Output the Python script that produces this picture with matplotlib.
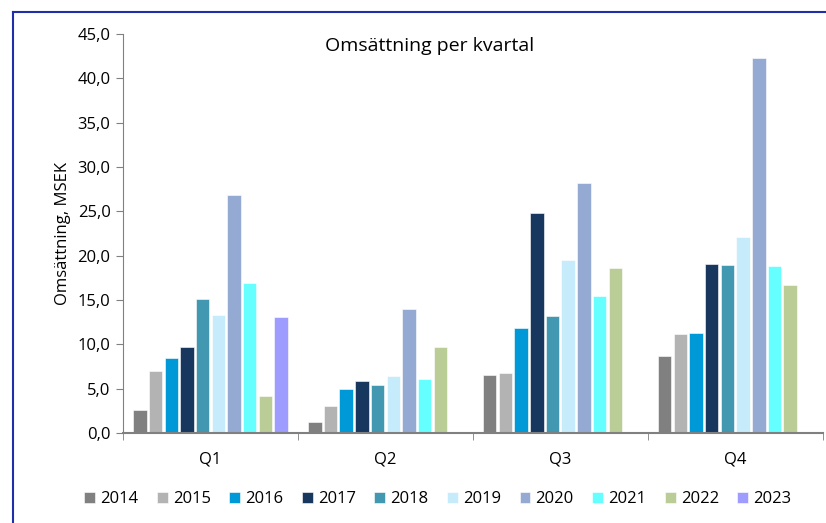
import numpy as np
import matplotlib.pyplot as plt
from matplotlib.lines import Line2D
from matplotlib.ticker import FuncFormatter

plt.rcParams['font.family'] = ['Open Sans', 'DejaVu Sans']

quarters = ["Q1", "Q2", "Q3", "Q4"]
years = ["2014", "2015", "2016", "2017", "2018", "2019", "2020", "2021", "2022", "2023"]
colors = ["#808080", "#b3b3b3", "#0099d8", "#17375e", "#4198b0",
          "#c6ecfb", "#95aad3", "#66ffff", "#bacd96", "#9e9cff"]

nan = np.nan
values = {
    "2014": [2.6, 1.3, 6.6, 8.7],
    "2015": [7.0, 3.1, 6.8, 11.2],
    "2016": [8.5, 5.0, 11.9, 11.3],
    "2017": [9.7, 5.9, 24.8, 19.1],
    "2018": [15.1, 5.4, 13.2, 19.0],
    "2019": [13.3, 6.4, 19.5, 22.1],
    "2020": [26.8, 14.0, 28.2, 42.3],
    "2021": [16.9, 6.1, 15.5, 18.8],
    "2022": [4.2, 9.7, 18.6, 16.7],
    "2023": [13.1, nan, nan, nan],
}

fig = plt.figure(figsize=(8.26, 5.23), dpi=100)
ax = fig.add_axes([0.149, 0.172, 0.847, 0.763])

x = np.arange(len(quarters))
slot = 0.897 / len(years)
width = slot * 0.86
for i, y in enumerate(years):
    pos = x - 0.897 / 2 + slot * (i + 0.5)
    ax.bar(pos, values[y], width, color=colors[i], label=y,
           edgecolor="white", linewidth=0.4)

ax.set_xlim(-0.5, 3.5)
ax.set_ylim(0, 45)
ax.set_yticks(np.arange(0, 46, 5))
ax.yaxis.set_major_formatter(FuncFormatter(lambda v, p: f"{v:.1f}".replace(".", ",")))
ax.set_xticks(x)
ax.set_xticklabels(quarters)
ax.set_xticks(np.arange(-0.5, 4, 1), minor=True)
ax.tick_params(axis="x", which="major", length=0, pad=13, labelsize=12)
ax.tick_params(axis="x", which="minor", length=5, color="#808080")
ax.tick_params(axis="y", length=5, color="#808080", labelsize=12, pad=4)

for s in ["top", "right"]:
    ax.spines[s].set_visible(False)
ax.spines["left"].set_color("#808080")
ax.spines["bottom"].set_color("#808080")
ax.spines["bottom"].set_linewidth(1.5)

ax.set_ylabel("Omsättning, MSEK", fontsize=12, labelpad=5)
fig.text(0.52, 0.913, "Omsättning per kvartal", ha="center", va="center", fontsize=14)

ax.legend(loc="center", bbox_to_anchor=(0.53, 0.046), bbox_transform=fig.transFigure,
          ncol=10, frameon=False, fontsize=12, handlelength=0.65, handleheight=0.65,
          handletextpad=0.3, columnspacing=1.12)

# outer frame (left and top edges visible)
fig.add_artist(Line2D([0.016, 0.016], [0.0, 0.977], color="#1f2fa8", linewidth=1.5))
fig.add_artist(Line2D([0.016, 1.0], [0.977, 0.977], color="#1f2fa8", linewidth=1.5))

fig.savefig("out.png", dpi=100)
